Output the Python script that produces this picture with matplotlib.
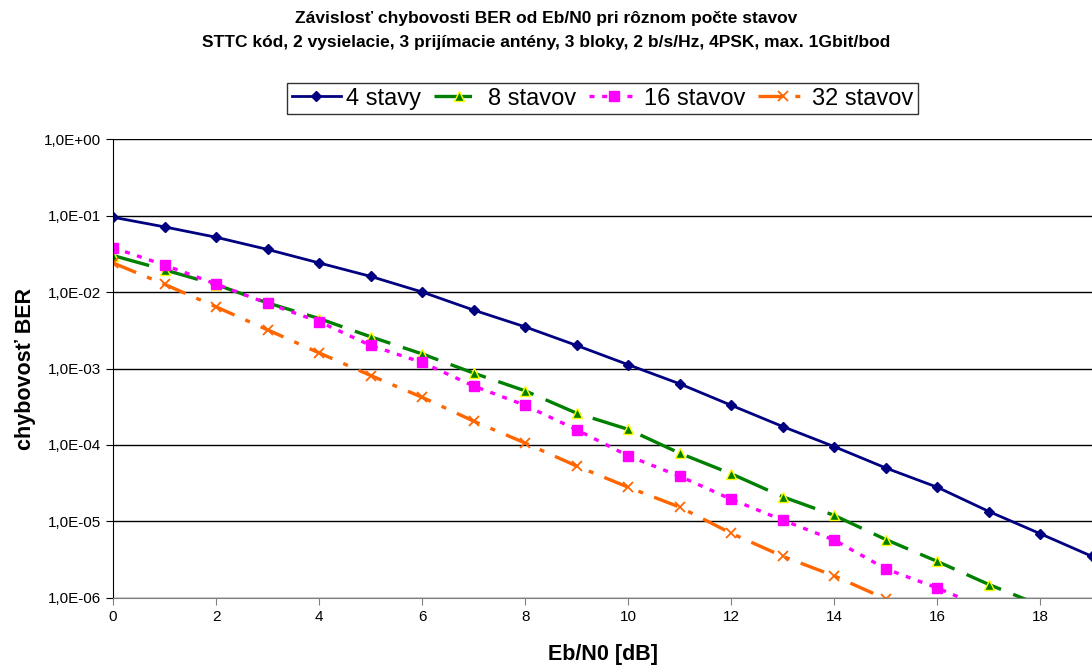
import matplotlib
matplotlib.use('Agg')
import matplotlib.pyplot as plt
from matplotlib.ticker import FixedLocator, FuncFormatter
import numpy as np

plt.rcParams['font.family'] = ['Liberation Sans', 'DejaVu Sans']
plt.rcParams['lines.scale_dashes'] = False

# Eb/N0 [dB]
ebn0 = list(range(0, 20))

# BER for each number of trellis states
ber_4 = [0.095, 0.071, 0.052, 0.036, 0.024, 0.016, 0.0100, 0.0058, 0.0035, 0.0020,
         1.12e-3, 6.3e-4, 3.3e-4, 1.74e-4, 9.5e-5, 5.0e-5, 2.8e-5, 1.35e-5, 6.9e-6, 3.5e-6]
ber_8 = [0.030, 0.0195, 0.0125, 0.0072, 0.0045, 0.0026, 0.00155, 8.7e-4, 5.1e-4, 2.6e-4,
         1.6e-4, 7.8e-5, 4.2e-5, 2.1e-5, 1.2e-5, 5.8e-6, 3.0e-6, 1.5e-6, 8.0e-7]
ber_16 = [0.038, 0.0225, 0.0127, 0.0071, 0.0041, 0.0020, 0.0012, 5.9e-4, 3.3e-4, 1.58e-4,
          7.2e-5, 3.9e-5, 1.95e-5, 1.04e-5, 5.7e-6, 2.4e-6, 1.35e-6, 7.0e-7]
ber_32 = [0.024, 0.0126, 0.0064, 0.0032, 0.0016, 8.1e-4, 4.2e-4, 2.05e-4, 1.06e-4, 5.3e-5,
          2.8e-5, 1.54e-5, 7.0e-6, 3.5e-6, 1.94e-6, 9.7e-7]

labels = ['4 stavy', '8 stavov', '16 stavov', '32 stavov']
y_ticks = [1e0, 1e-1, 1e-2, 1e-3, 1e-4, 1e-5, 1e-6]
x_ticks = list(range(0, 20, 2))

fig = plt.figure(figsize=(10.92, 6.70), dpi=100)
ax = fig.add_axes([0.1035, 0.1075, 0.8965, 0.685])

ax.plot(ebn0, ber_4, color='#000080', lw=2.0, marker='D', ms=5.5,
        label=labels[0])
ax.plot(ebn0[:len(ber_8)], ber_8, color='#008000', lw=2.4, dashes=(27, 9.5),
        marker='^', ms=6.5, mfc='#008000', mec='#FFFF00', mew=1.0, label=labels[1])
ax.plot(ebn0[:len(ber_16)], ber_16, color='#FF00FF', lw=2.4, dashes=(3.6, 5.5),
        marker='s', ms=6.5, mfc='#FF00FF', mec='#FF00FF', label=labels[2])
ax.plot(ebn0[:len(ber_32)], ber_32, color='#FF6600', lw=2.4, dashes=(18, 8.5, 3.6, 8.5),
        marker='x', ms=7, mew=1.3, label=labels[3])

ax.set_yscale('log')
ax.set_ylim(1e-6, 1)
ax.set_xlim(0, 19)
ax.yaxis.set_major_locator(FixedLocator(y_ticks))
ax.yaxis.set_minor_locator(FixedLocator([]))
ax.yaxis.set_major_formatter(FuncFormatter(lambda v, p: '1,0E%+03d' % round(np.log10(v))))
ax.set_xticks(x_ticks)

ax.grid(axis='y', color='black', lw=1.0)
ax.set_axisbelow(True)
for s in ['top', 'right']:
    ax.spines[s].set_visible(False)
ax.spines['left'].set_color('black')
ax.spines['bottom'].set_color('#808080')
ax.tick_params(labelsize=11, direction='out', length=5, color='black')
ax.tick_params(axis='x', color='#808080', pad=4)

ax.set_xlabel('Eb/N0 [dB]', fontsize=15.5, fontweight='bold', labelpad=14)
ax.set_ylabel('chybovosť BER', fontsize=15.5, fontweight='bold', labelpad=6)

fig.suptitle('Závislosť chybovosti BER od Eb/N0 pri rôznom počte stavov\n'
             'STTC kód, 2 vysielacie, 3 prijímacie antény, 3 bloky, 2 b/s/Hz, 4PSK, max. 1Gbit/bod',
             x=0.5, y=0.983, fontsize=12.5, fontweight='bold', linespacing=1.7)

leg = ax.legend(loc='lower center', bbox_to_anchor=(0.5, 1.054), ncol=4, fontsize=17,
                frameon=True, fancybox=False, edgecolor='black', handlelength=2.1,
                columnspacing=0.55, handletextpad=0.2, borderpad=0.2, borderaxespad=0)
leg.get_frame().set_linewidth(1.0)

fig.savefig('out.png', dpi=100)
